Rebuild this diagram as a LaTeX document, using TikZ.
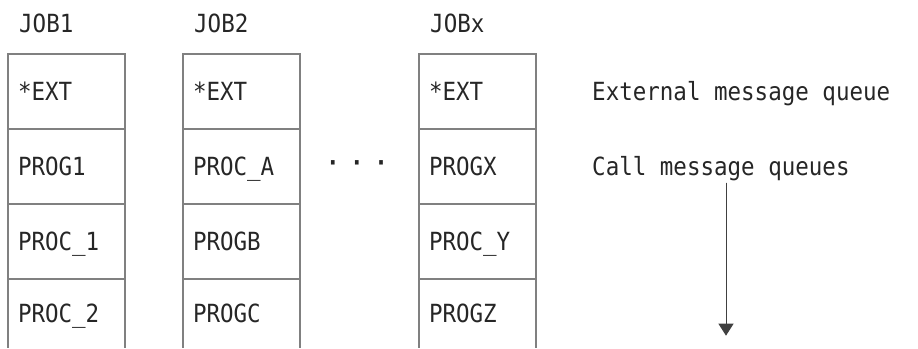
\documentclass[tikz,border=0pt]{standalone}
\usepackage{fontspec}
\newfontfamily\jobfont[FakeStretch=0.9]{DejaVu Sans Mono}
\usetikzlibrary{arrows.meta, positioning}

\begin{document}
\begin{tikzpicture}[
    x=1pt, y=1pt,
    node distance=0pt,
    every node/.style={font=\jobfont\fontsize{25}{29}\selectfont, text=black!85},
    cell/.style={rectangle, draw=black!50, line width=1.2pt, outer sep=0pt, minimum width=117pt, minimum height=75pt, text width=97pt, align=left, inner xsep=10pt, text height=18pt, text depth=0pt},
    lastcell/.style={cell, draw=none, minimum height=69pt},
    boxline/.style={draw=black!50, line width=1.2pt},
    joblabel/.style={inner sep=0pt},
    note/.style={inner sep=0pt, text height=18pt, text depth=0pt},
    arrow/.style={-{Triangle[width=15pt,length=12pt]}, line width=1pt, draw=black!75, fill=black!85}
]
\useasboundingbox (0,0) rectangle (918,-348);

% JOB1
\node[cell, anchor=north west] (ext1) at (8,-54) {*EXT};
\node[cell, below=of ext1] (prog1) {PROG1};
\node[cell, below=of prog1] (proc1) {PROC\_1};
\node[lastcell, below=of proc1] (proc2) {PROC\_2};
\node[joblabel, above right=21pt and 11pt of ext1.north west] (job1) {JOB1};

% JOB2
\node[cell, right=58pt of ext1] (ext2) {*EXT};
\node[cell, below=of ext2] (proca) {PROC\_A};
\node[cell, below=of proca] (progb) {PROGB};
\node[lastcell, below=of progb] (progc) {PROGC};
\node[joblabel, above right=21pt and 11pt of ext2.north west] (job2) {JOB2};

% JOBx
\node[cell, right=119pt of ext2] (extx) {*EXT};
\node[cell, below=of extx] (progx) {PROGX};
\node[cell, below=of progx] (procy) {PROC\_Y};
\node[lastcell, below=of procy] (progz) {PROGZ};
\node[joblabel, above right=21pt and 11pt of extx.north west] (jobx) {JOBx};

% more jobs
\node[note, right=26pt of proca, yshift=4pt] (dots) {\bfseries ·\kern10.5pt·\kern10.5pt·};

% open bottoms
\draw[boxline] (proc2.north west) -- (proc2.south west);
\draw[boxline] (proc2.north east) -- (proc2.south east);
\draw[boxline] (progc.north west) -- (progc.south west);
\draw[boxline] (progc.north east) -- (progc.south east);
\draw[boxline] (progz.north west) -- (progz.south west);
\draw[boxline] (progz.north east) -- (progz.south east);

% Queue notes
\node[note, right=56pt of extx] (extq) {External message queue};
\node[note, right=56pt of progx] (callq) {Call message queues};

\coordinate (qtop) at ([xshift=134pt, yshift=-7pt]callq.south west);
\coordinate (qend) at ([yshift=-153pt]qtop);
\draw[arrow] (qtop) -- (qend);

\end{tikzpicture}
\end{document}
